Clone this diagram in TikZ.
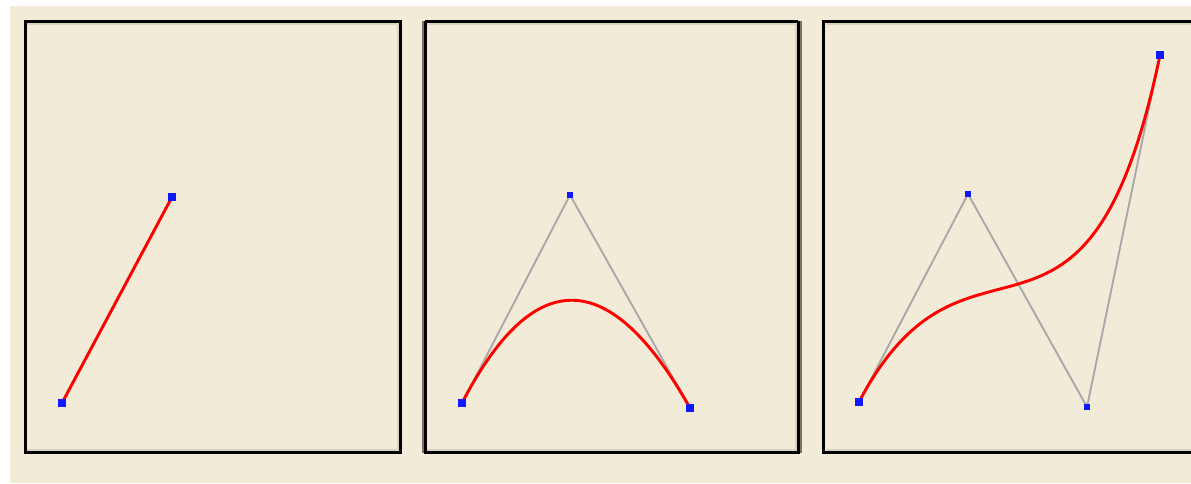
\documentclass[tikz,border=0pt]{standalone}
\usetikzlibrary{calc}
\definecolor{bg}{RGB}{242,235,216}
\definecolor{shade}{RGB}{216,210,192}
\definecolor{ctrlgrey}{RGB}{168,168,168}
\definecolor{ptblue}{RGB}{16,24,255}
\definecolor{edgegrey}{RGB}{120,116,104}
\tikzset{
  frame/.style={draw=black, line width=2.25pt},
  shadowline/.style={draw=shade, line width=1.5pt},
  endpt/.style={fill=ptblue, draw=none, minimum size=6pt, inner sep=0pt, outer sep=0pt, rectangle},
  ctrlpt/.style={fill=ptblue, draw=none, minimum size=4.5pt, inner sep=0pt, outer sep=0pt, rectangle},
  polygon/.style={draw=ctrlgrey, line width=1.4pt},
  curve/.style={draw=red, line width=2.2pt}
}
\begin{document}
\begin{tikzpicture}[x=0.75pt, y=-0.75pt]
\useasboundingbox (0,0) rectangle (1191,483);
\fill[white] (0,0) rectangle (1191,483);
\fill[bg] (10,6) rectangle (1191,483);
% panel frames
\draw[shadowline] (27,24) -- (397.5,24) -- (397.5,450) -- (27,450);
\draw[frame] (25.5,21.5) rectangle (400.5,452.5);
\draw[shadowline] (427,24) -- (796,24) -- (796,450) -- (427,450);
\draw[draw=edgegrey, line width=1.5pt] (423,21) -- (423,453);
\draw[draw=edgegrey, line width=1.5pt] (800.5,21) -- (800.5,453);
\draw[frame] (425,21.5) -- (798,21.5);
\draw[frame] (425,452.5) -- (798,452.5);
\draw[frame] (425,20.5) -- (425,453.5);
\draw[frame] (798,20.5) -- (798,453.5);
\draw[shadowline] (826,24) -- (1191,24);
\draw[shadowline] (826,450) -- (1191,450);
\draw[frame] (1195,21.5) -- (823.5,21.5) -- (823.5,452.5) -- (1195,452.5);
% panel 1: linear
\node[endpt] (a0) at (62,403) {};
\node[endpt] (a1) at (172,197) {};
\draw[curve] (a0.center) -- (a1.center);
\node[endpt] at (a0) {};
\node[endpt] at (a1) {};
% panel 2: quadratic
\coordinate (b0) at (462,403);
\coordinate (b1) at (570,195);
\coordinate (b2) at (690,408);
\draw[polygon] (b0) -- (b1) -- (b2);
\draw[curve] (b0) .. controls ($(b0)!2/3!(b1)$) and ($(b2)!2/3!(b1)$) .. (b2);
\node[endpt] (bn0) at (b0) {};
\node[ctrlpt] (bn1) at (b1) {};
\node[endpt] (bn2) at (b2) {};
% panel 3: cubic
\coordinate (c0) at (859,402);
\coordinate (c1) at (968,194);
\coordinate (c2) at (1087,407);
\coordinate (c3) at (1160,55);
\draw[polygon] (c0) -- (c1) -- (c2) -- (c3);
\draw[curve] (c0) .. controls (c1) and (c2) .. (c3);
\node[endpt] (cn0) at (c0) {};
\node[ctrlpt] (cn1) at (c1) {};
\node[ctrlpt] (cn2) at (c2) {};
\node[endpt] (cn3) at (c3) {};
\end{tikzpicture}
\end{document}
